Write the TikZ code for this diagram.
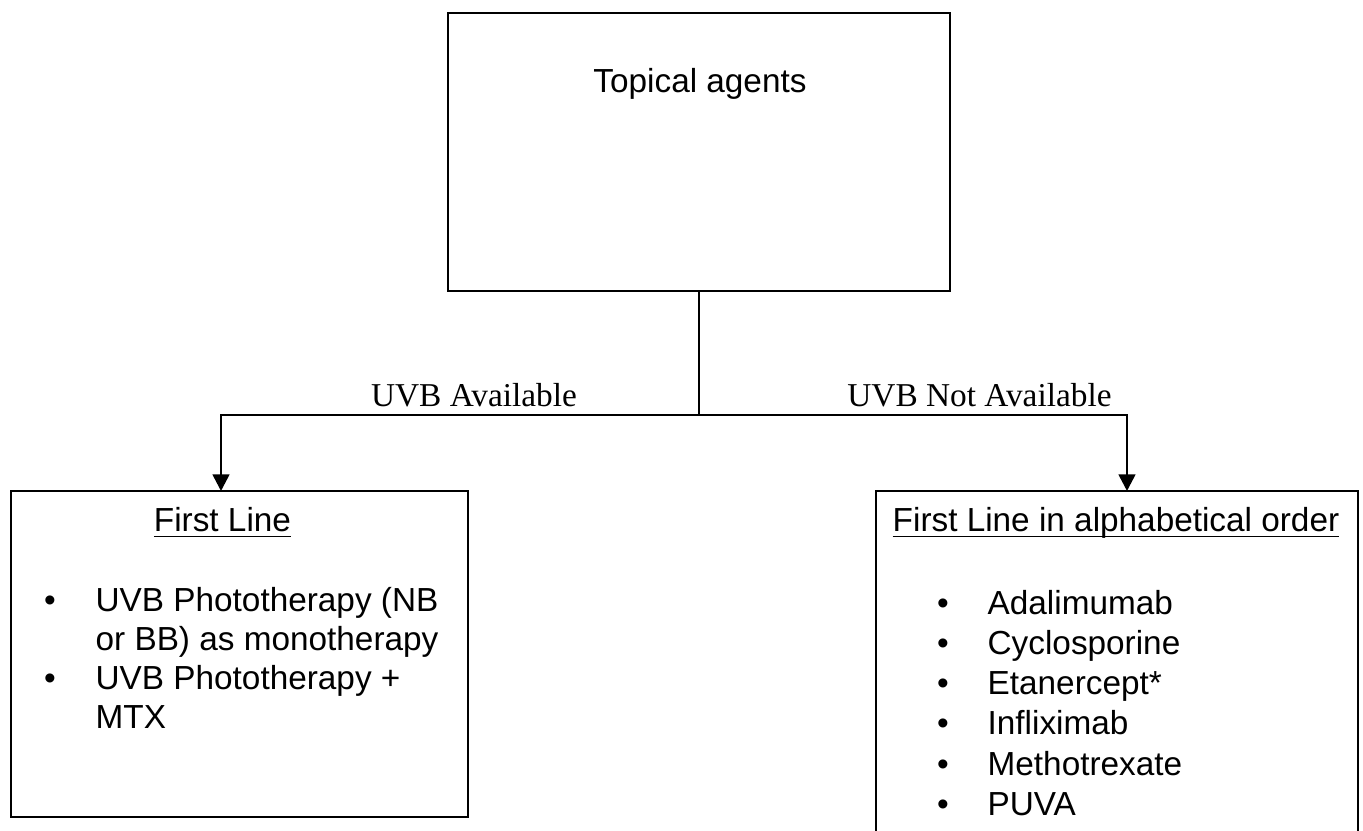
\documentclass[tikz,border=0pt]{standalone}
\usepackage{fontspec}
\setmainfont{Liberation Serif}
\setsansfont{Liberation Sans}
\usetikzlibrary{arrows.meta,positioning}
\tikzstyle{arrow} = [thick,-{Triangle[width=5pt,length=5pt]}]
\tikzstyle{box} = [draw,thick,rectangle,inner sep=0pt]
\tikzstyle{item} = [font=\sffamily\fontsize{10}{12}\selectfont,inner sep=0pt,anchor=base west]
\tikzstyle{dot} = [font=\sffamily\fontsize{10}{12}\selectfont,inner sep=0pt,anchor=base]
\tikzstyle{branch} = [font=\rmfamily\fontsize{10}{12}\selectfont,inner sep=0pt,anchor=base]

\begin{document}
\begin{tikzpicture}[x=0.3pt,y=-0.3pt]
\useasboundingbox (0,0) rectangle (1363,831);

\node[box,minimum width=150.6pt,minimum height=83.4pt] (topical) at (699,152) {};
\node[item,anchor=base] (topicaltxt) at (700,93) {Topical agents};

\node[box,minimum width=137.1pt,minimum height=97.8pt] (uvbyes) at (239.5,654) {};
\node[box,minimum width=144.6pt,minimum height=110.7pt] (uvbno) at (1117,675.5) {};

\node[item,anchor=base] (yeshead) at (222.5,532) {\underline{\smash{First Line}}};
\node[item,anchor=base] (nohead) at (1116,532) {\underline{\smash{First Line in alphabetical order}}};

% left list
\foreach \txt [count=\i] in {UVB Phototherapy (NB,or BB) as monotherapy,UVB Phototherapy +,MTX}
{
 \node[item] (yes\i) at (95,573.3+38.7*\i) {\txt};
}
\node[dot] (yesdot1) at (50,612) {\textbullet};
\node[dot] (yesdot2) at (50,689.4) {\textbullet};

% right list
\foreach \txt [count=\i] in {Adalimumab,Cyclosporine,Etanercept*,Infliximab,Methotrexate,PUVA}
{
 \node[item] (no\i) at (987,574+40.2*\i) {\txt};
 \node[dot] (nodot\i) at (943,574+40.2*\i) {\textbullet};
}

% connectors
\coordinate (split) at (699,415);
\coordinate (yestip) at (221,491);
\coordinate (notip) at (1127,491);
\draw[thick] (topical.south) -- (split);
\draw[arrow] (split) -| (yestip);
\draw[arrow] (split) -| (notip);

\node[branch] (yeslabel) at (474,407) {UVB Available};
\node[branch] (nolabel) at (979.5,407) {UVB Not Available};

\end{tikzpicture}
\end{document}
